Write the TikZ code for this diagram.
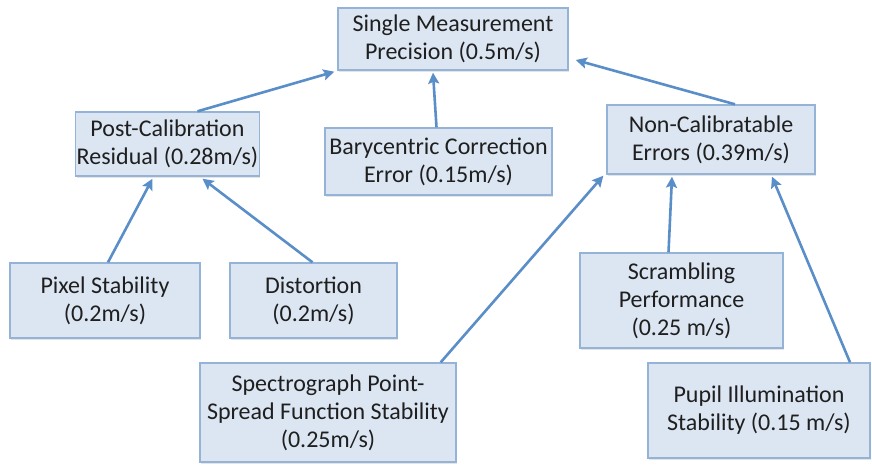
\documentclass[tikz,border=0pt]{standalone}
\usepackage{fontspec}
\setmainfont{Carlito}
\usetikzlibrary{arrows.meta,calc,shadows}
\definecolor{boxfill}{HTML}{DCE6F2}
\definecolor{boxline}{HTML}{95B3D7}
\definecolor{arrowc}{HTML}{5A8EC8}
\tikzset{
  box/.style={draw=boxline, line width=1.4pt, fill=boxfill, align=center,
    inner sep=1pt, text=black!88, font=\fontsize{24}{28}\selectfont,
    drop shadow={opacity=0.2, shadow xshift=1pt, shadow yshift=-2pt}},
  conn/.style={draw=arrowc, line width=2.6pt, -{Stealth[length=11pt,width=11pt,inset=2pt]}}
}
\begin{document}
\begin{tikzpicture}[x=1pt,y=-1pt]
\useasboundingbox (0,0) rectangle (872,464);
\fill[white] (0,0) rectangle (872,464);
\node[box, minimum width=230, minimum height=62] (top) at (453,39) {Single Measurement\\Precision (0.5m/s)};
\node[box, minimum width=179, minimum height=64] (postcal) at (167.5,144) {Post-Calibration\\Residual (0.28m/s)};
\node[box, minimum width=227, minimum height=67] (bary) at (438.5,161.5) {Barycentric Correction\\Error (0.15m/s)};
\node[box, minimum width=208, minimum height=69] (noncal) at (711,139.5) {Non-Calibratable\\Errors (0.39m/s)};
\node[box, minimum width=190, minimum height=75] (pixel) at (105,300.5) {Pixel Stability\\(0.2m/s)};
\node[box, minimum width=167, minimum height=75] (dist) at (313.5,300.5) {Distortion\\(0.2m/s)};
\node[box, minimum width=203, minimum height=95] (scram) at (681.5,300.5) {Scrambling\\Performance\\(0.25 m/s)};
\node[box, minimum width=222, minimum height=95] (pupil) at (759,410.5) {Pupil Illumination\\Stability (0.15 m/s)};
\node[box, minimum width=256, minimum height=99] (spectro) at (328,412.5) {Spectrograph Point-\\Spread Function Stability\\(0.25m/s)};

\coordinate (t1) at ($(top.south west)+(-3,1)$);
\coordinate (t2) at ($(top.south)+(-20,2)$);
\coordinate (t3) at ($(top.east)+(7,21)$);
\coordinate (p1) at ($(postcal.south)+(-15,2)$);
\coordinate (p2) at ($(postcal.south)+(35,2)$);
\coordinate (n1) at ($(noncal.south west)+(-3,1)$);
\coordinate (n2) at ($(noncal.south)+(-39,2)$);
\coordinate (n3) at ($(noncal.south)+(61,2)$);

\draw[conn] ($(postcal.north)+(30,0)$) -- (t1);
\draw[conn] ($(bary.north)+(-2,0)$) -- (t2);
\draw[conn] ($(noncal.north)+(24,0)$) -- (t3);
\draw[conn] ($(pixel.north)+(3,0)$) -- (p1);
\draw[conn] ($(dist.north)+(-1,0)$) -- (p2);
\draw[conn] ($(spectro.north east)+(-16,0)$) -- (n1);
\draw[conn] ($(scram.north)+(-13,0)$) -- (n2);
\draw[conn] ($(pupil.north)+(91,0)$) -- (n3);
\end{tikzpicture}
\end{document}
